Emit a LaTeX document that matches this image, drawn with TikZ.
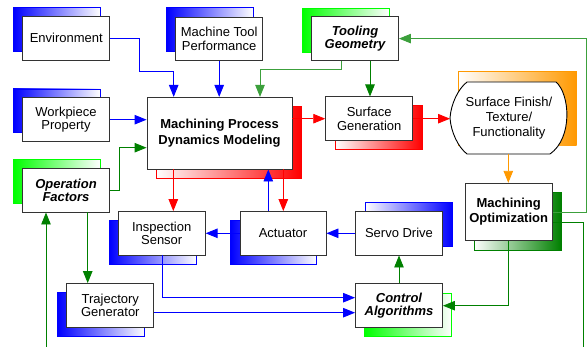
\documentclass[tikz,border=0pt]{standalone}
\usepackage{fontspec}
\setmainfont{Liberation Sans}
\usetikzlibrary{arrows.meta}
\definecolor{dgreen}{RGB}{0,128,0}
\definecolor{mgreen}{RGB}{60,160,60}
\definecolor{lgreen}{RGB}{0,255,0}
\definecolor{orng}{RGB}{255,153,0}
\definecolor{bord}{RGB}{51,51,51}
\tikzset{
  box/.style={draw=bord, line width=0.9pt, fill=white, minimum width=87pt, minimum height=43.5pt,
    align=center, inner sep=1pt, font=\fontsize{13}{13.5}\selectfont},
  bx/.style={font=\fontsize{13}{13.5}\selectfont\bfseries\itshape},
  shad/.style={line width=0.6pt, minimum width=87pt, minimum height=43.5pt, inner sep=0pt},
  conn/.style={line width=0.9pt, -{Triangle[length=12pt,width=9.5pt]}},
  plainln/.style={line width=0.9pt}
}
\begin{document}
\begin{tikzpicture}[x=1pt,y=-1pt]
\useasboundingbox (0,0) rectangle (587,347);

% ---------- shadows ----------
\node[shad, draw=blue, left color=blue, right color=white] (envS) at (57,29.2) {};
\node[shad, draw=blue, left color=blue, right color=white] (mtS) at (210,29.5) {};
\node[shad, draw=blue, left color=blue, right color=white] (wpS) at (56.7,110.7) {};
\node[shad, draw=lgreen, left color=lgreen, right color=white] (toolS) at (345.8,30.5) {};
\node[shad, draw=lgreen, left color=lgreen, right color=white] (ofS) at (56.7,181.3) {};
\node[shad, draw=red, left color=white, right color=red, minimum width=145pt, minimum height=71.7pt] (mpdmS) at (228.7,142.5) {};
\node[shad, draw=red, left color=white, right color=red] (sgS) at (378.5,127.2) {};
\node[shad, draw=blue, left color=blue, right color=white] (isS) at (153,242.2) {};
\node[shad, draw=blue, left color=blue, right color=white, minimum width=86pt] (actS) at (273.7,242.2) {};
\node[shad, draw=blue, left color=white, right color=blue] (servoS) at (408.5,224.2) {};
\node[shad, draw=dgreen, left color=white, right color=dgreen, minimum height=57.4pt] (moS) at (517.5,221.2) {};
\node[shad, draw=lgreen, left color=lgreen, right color=white] (caS) at (407.9,315) {};
\node[shad, draw=blue, left color=blue, right color=white] (tgS) at (101.2,314.5) {};
\shade[left color=white, right color=orng] (458.3,71.7) rectangle (576.7,146);
\draw[orng, line width=0.6pt] (458.3,146) -- (458.3,71.7) -- (576.7,71.7);

% ---------- boxes ----------
\node[box] (env) at (66.3,38.3) {Environment};
\node[box] (mt) at (219.2,39) {Machine Tool\\Performance};
\node[box] (wp) at (66,119.7) {Workpiece\\Property};
\node[box, bx] (tool) at (355,38.6) {Tooling\\Geometry};
\node[box, bx] (of) at (66,190.3) {Operation\\Factors};
\node[box, minimum width=145pt, minimum height=71.7pt, font=\fontsize{13}{16.5}\selectfont\bfseries] (mpdm) at (219.5,133.2) {Machining Process\\Dynamics Modeling};
\node[box] (sg) at (369.2,118.7) {Surface\\Generation};
\node[box] (is) at (161.7,233.3) {Inspection\\Sensor};
\node[box, minimum width=86pt] (act) at (283,233.3) {Actuator};
\node[box] (servo) at (399,233.3) {Servo Drive};
\node[box, minimum height=57.4pt, font=\fontsize{13}{15}\selectfont\bfseries] (mo) at (508.7,212) {Machining\\Optimization};
\node[box, bx] (ca) at (399,305.7) {Control\\Algorithms};
\node[box] (tg) at (110.3,305.3) {Trajectory\\Generator};

% surface finish shape
\draw[black, line width=0.9pt, fill=white]
  (467,82) -- (556,82) .. controls (570,94) and (573,138) .. (550,154)
  -- (467,154) .. controls (458,147) and (451,132) .. (450,118)
  .. controls (451,104) and (458,89) .. cycle;
\node[align=center, font=\fontsize{13}{15}\selectfont] (sf) at (509,118.3) {Surface Finish/\\Texture/\\Functionality};
\coordinate (sfw) at (450,118);
\coordinate (sfs) at (508.3,154);

% ---------- connectors ----------
\draw[conn, blue] (env.east) -| (139,71.7) -| ([xshift=-45.8pt]mpdm.north);
\draw[conn, blue] (mt.south) -- (mt.south |- mpdm.north);
\draw[conn, mgreen] ([xshift=-13.3pt]tool.south) -- ++(0,9) -| ([xshift=40.5pt]mpdm.north);
\draw[conn, dgreen] ([xshift=15pt]tool.south) -- ([xshift=15pt]tool.south |- sg.north);
\draw[conn, blue] (wp.east) -- (wp.east -| mpdm.west);
\coordinate (ofb) at (119.3,147.7);
\draw[conn, dgreen] (of.east) -| (ofb) -- (ofb -| mpdm.west);
\draw[conn, red] (sg.west -| mpdm.east) -- (sg.west);
\draw[conn, red] (sg.east) -- (sg.east -| sfw);
\draw[conn, orng] (sfs) -- (sfs |- mo.north);
\coordinate (rt) at (586,0);
\draw[conn, mgreen] (mo.east) -| (rt |- tool.east) -- (tool.east);
\coordinate (b1) at (583.5,347);
\coordinate (b2) at (46,347);
\draw[plainln, dgreen] ([yshift=-10.7pt]mo.east) -| (b1);
\draw[conn, dgreen] (b2) -- (b2 |- of.south);
\draw[conn, dgreen] (mo.south) |- (ca.east);
\draw[conn, dgreen] (ca.north) -- (servo.south);
\draw[conn, blue] (servo.west) -- (act.east);
\draw[conn, blue] (act.west) -- (is.east);
\draw[conn, blue] ([xshift=-14.7pt]act.north) -- ([xshift=-14.7pt]act.north |- mpdm.south);
\draw[conn, red] ([xshift=-46.2pt]mpdm.south) -- ([xshift=-46.2pt]mpdm.south |- is.north);
\draw[conn, red] ([xshift=63.8pt]mpdm.south) -- ([xshift=63.8pt]mpdm.south |- act.north);
\draw[conn, dgreen] ([xshift=21.7pt]of.south) -- ([xshift=21.7pt]of.south |- tg.north);
\draw[conn, blue] ([xshift=0.6pt]is.south) |- ([yshift=8pt]ca.west);
\draw[conn, blue] ([yshift=-7.4pt]tg.east) -- ([yshift=-7.4pt]tg.east -| ca.west);
\end{tikzpicture}
\end{document}
